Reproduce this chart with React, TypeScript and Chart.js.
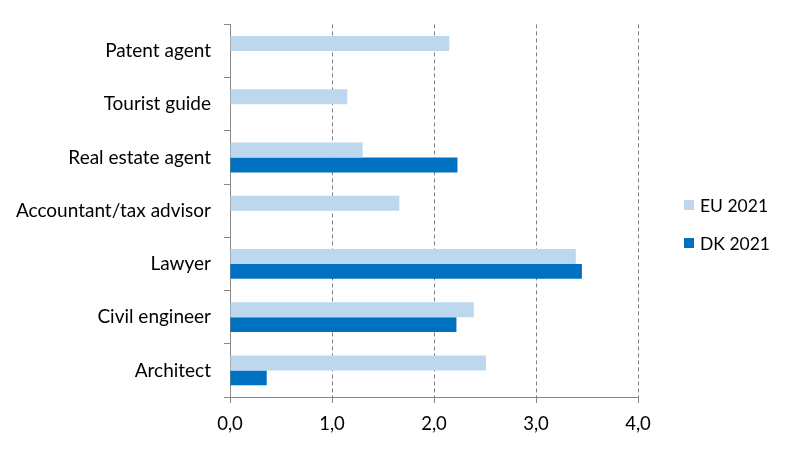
import React, { useEffect, useRef } from "react";
import { Chart, registerables } from "chart.js";

Chart.register(...registerables);

const categories = [
  "Patent agent",
  "Tourist guide",
  "Real estate agent",
  "Accountant/tax advisor",
  "Lawyer",
  "Civil engineer",
  "Architect",
];
const euValues = [2.15, 1.15, 1.3, 1.66, 3.39, 2.39, 2.51];
const dkValues: (number | null)[] = [null, null, 2.23, null, 3.45, 2.22, 0.36];
const xTickLabels = ["0,0", "1,0", "2,0", "3,0", "4,0"];
const seriesNames = ["EU 2021", "DK 2021"];
const seriesColors = ["#BDD7EE", "#0070C0"];

const FONT = "Lato, 'Noto Sans', sans-serif";

export default function App() {
  const ref = useRef<HTMLCanvasElement | null>(null);

  useEffect(() => {
    if (!ref.current) return;
    const chart = new Chart(ref.current, {
      type: "bar",
      data: {
        labels: categories,
        datasets: [
          {
            label: seriesNames[0],
            data: euValues,
            backgroundColor: seriesColors[0],
            barPercentage: 1,
            categoryPercentage: 0.56,
          },
          {
            label: seriesNames[1],
            data: dkValues,
            backgroundColor: seriesColors[1],
            barPercentage: 1,
            categoryPercentage: 0.56,
          },
        ],
      },
      options: {
        indexAxis: "y",
        responsive: false,
        animation: false,
        devicePixelRatio: 1,
        layout: { padding: { top: 22, right: 154, bottom: 0, left: 0 } },
        plugins: {
          legend: { display: false },
          tooltip: { enabled: false },
        },
        scales: {
          x: {
            min: 0,
            max: 4,
            ticks: {
              stepSize: 1,
              padding: 10,
              color: "#000",
              font: { family: FONT, size: 18.5 },
              callback: (_v: any, i: number) => xTickLabels[i],
            },
            grid: {
              color: (ctx: any) => (ctx.tick && ctx.tick.value === 0 ? "rgba(0,0,0,0)" : "#7f7f7f"),
              tickColor: "#868686",
              tickLength: 6,
              tickBorderDash: [],
              lineWidth: 1,
            } as any,
            border: { display: true, color: "#868686", width: 1, dash: [4, 3] } as any,
            afterFit: (scale: any) => {
              scale.height = 52;
            },
          },
          y: {
            ticks: {
              autoSkip: false,
              padding: 13,
              color: "#000",
              font: { family: FONT, size: 19 },
            },
            grid: {
              drawOnChartArea: false,
              drawTicks: true,
              tickLength: 6,
              color: "#868686",
              offset: true,
            },
            border: { display: true, color: "#868686", width: 1 },
            afterFit: (scale: any) => {
              scale.width = 230;
            },
          },
        },
      },
    } as any);
    return () => chart.destroy();
  }, []);

  return (
    <div style={{ position: "fixed", left: 0, top: 0, width: 792, height: 449, background: "#fff" }}>
      <canvas ref={ref} width={792} height={449} style={{ display: "block" }} />
      {seriesNames.map((name, i) => (
        <div
          key={name}
          style={{
            position: "absolute",
            left: 684,
            top: 195 + i * 38,
            height: 20,
            display: "flex",
            alignItems: "center",
            fontFamily: FONT,
            fontSize: 17.5,
            color: "#000",
            whiteSpace: "nowrap",
          }}
        >
          <span style={{ display: "inline-block", width: 10, height: 10, background: seriesColors[i], marginRight: 6 }} />
          {name}
        </div>
      ))}
    </div>
  );
}
